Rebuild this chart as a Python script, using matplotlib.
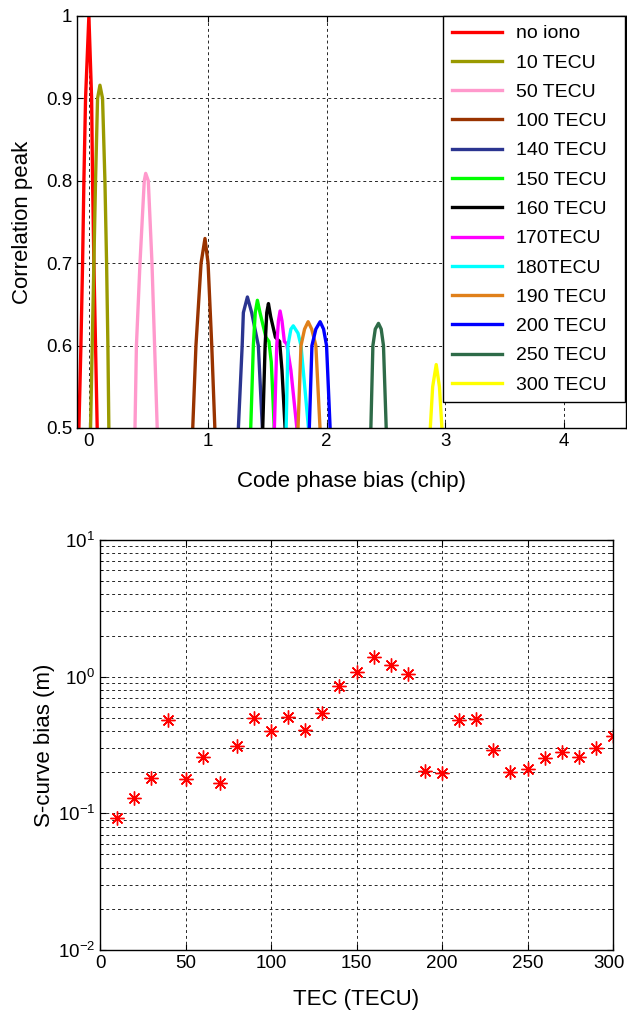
import matplotlib
matplotlib.use("Agg")
import matplotlib.pyplot as plt
import matplotlib.transforms as mtransforms
import numpy as np
from matplotlib.ticker import FormatStrFormatter, LogLocator

plt.rcParams['font.family'] = ['Liberation Sans', 'DejaVu Sans']
plt.rcParams['mathtext.fontset'] = 'custom'
plt.rcParams['mathtext.rm'] = 'Liberation Sans'

# ---- top panel: correlation peaks per TEC level ----
labels = ['no iono', '10 TECU', '50 TECU', '100 TECU', '140 TECU', '150 TECU',
          '160 TECU', '170TECU', '180TECU', '190 TECU', '200 TECU',
          '250 TECU', '300 TECU']
colors = ['#ff0000', '#9a9a00', '#ff99cc', '#993300', '#2b3590', '#00ff00',
          '#000000', '#ff00ff', '#00ffff', '#e0801a', '#0000ff', '#2e6b48',
          '#ffff00']

peak_x = [
    [-0.084, -0.067, -0.053, -0.042, -0.028, 0.0, 0.023, 0.031, 0.042, 0.056, 0.07],
    [0.014, 0.028, 0.042, 0.056, 0.073, 0.093, 0.115, 0.135, 0.149, 0.16, 0.168],
    [0.388, 0.40, 0.43, 0.466, 0.478, 0.50, 0.531, 0.553, 0.575],
    [0.874, 0.901, 0.944, 0.977, 1.003, 1.034, 1.06],
    [1.258, 1.29, 1.30, 1.334, 1.37, 1.426, 1.46],
    [1.362, 1.384, 1.40, 1.418, 1.44, 1.49, 1.515, 1.535, 1.56],
    [1.463, 1.483, 1.497, 1.511, 1.53, 1.57, 1.605, 1.625, 1.651],
    [1.561, 1.581, 1.595, 1.609, 1.625, 1.645, 1.665, 1.70, 1.75],
    [1.66, 1.675, 1.70, 1.72, 1.76, 1.785, 1.848],
    [1.76, 1.785, 1.815, 1.845, 1.875, 1.91, 1.945],
    [1.855, 1.877, 1.91, 1.946, 1.975, 2.0, 2.03],
    [2.373, 2.39, 2.41, 2.437, 2.46, 2.479, 2.502],
    [2.873, 2.893, 2.923, 2.95, 2.971],
]
peak_y = [
    [0.5, 0.6, 0.7, 0.8, 0.9, 1.0, 0.9, 0.8, 0.7, 0.6, 0.5],
    [0.5, 0.6, 0.7, 0.8, 0.9, 0.916, 0.9, 0.8, 0.7, 0.6, 0.5],
    [0.5, 0.6, 0.7, 0.8, 0.809, 0.8, 0.7, 0.6, 0.5],
    [0.5, 0.6, 0.7, 0.73, 0.7, 0.6, 0.5],
    [0.5, 0.6, 0.64, 0.659, 0.64, 0.6, 0.5],
    [0.5, 0.6, 0.64, 0.655, 0.64, 0.61, 0.605, 0.58, 0.5],
    [0.5, 0.6, 0.64, 0.651, 0.635, 0.61, 0.605, 0.57, 0.5],
    [0.5, 0.6, 0.63, 0.642, 0.63, 0.605, 0.602, 0.57, 0.5],
    [0.5, 0.6, 0.62, 0.624, 0.615, 0.6, 0.5],
    [0.5, 0.6, 0.62, 0.629, 0.62, 0.6, 0.5],
    [0.5, 0.6, 0.62, 0.629, 0.62, 0.6, 0.5],
    [0.5, 0.6, 0.62, 0.627, 0.62, 0.6, 0.5],
    [0.5, 0.55, 0.577, 0.55, 0.5],
]

# ---- bottom panel: S-curve bias vs TEC ----
tec = [10, 20, 30, 40, 50, 60, 70, 80, 90, 100, 110, 120, 130, 140, 150,
       160, 170, 180, 190, 200, 210, 220, 230, 240, 250, 260, 270, 280, 290, 300]
bias = [0.092, 0.13, 0.18, 0.48, 0.178, 0.258, 0.167, 0.31, 0.50, 0.40,
        0.505, 0.41, 0.54, 0.85, 1.09, 1.39, 1.21, 1.05, 0.205, 0.197,
        0.48, 0.49, 0.29, 0.20, 0.21, 0.256, 0.28, 0.257, 0.30, 0.37]

W, H = 627, 1010
fig = plt.figure(figsize=(W / 100, H / 100), dpi=100)

grid_kw = dict(color='0.15', linestyle=(0, (3, 3)), linewidth=0.7)

ax1 = fig.add_axes([77 / W, 1 - 428 / H, 549 / W, 412 / H])
for xs, ys, c, lab in zip(peak_x, peak_y, colors, labels):
    ax1.plot(xs, ys, color=c, lw=2.4, label=lab)
ax1.set_xlim(-0.1, 4.52)
ax1.set_ylim(0.5, 1.0)
ax1.set_xticks([0, 1, 2, 3, 4])
ax1.set_yticks([0.5, 0.6, 0.7, 0.8, 0.9, 1.0])
ax1.yaxis.set_major_formatter(FormatStrFormatter('%g'))
ax1.grid(True, **grid_kw)
ax1.set_axisbelow(True)
ax1.set_xlabel('Code phase bias (chip)', fontsize=16, labelpad=15)
ax1.set_ylabel('Correlation peak', fontsize=16, labelpad=9)
# legend box spans x = 443..625 px of the figure
leg = ax1.legend(loc='upper right', bbox_to_anchor=(366 / 549, 0, 182 / 549, 1.0),
                 mode='expand', fontsize=14, frameon=True, fancybox=False,
                 edgecolor='k', framealpha=1, borderaxespad=0,
                 handlelength=2.6, handletextpad=0.7, labelspacing=0.6,
                 borderpad=0.45)
leg.get_frame().set_linewidth(1.0)

ax2 = fig.add_axes([100 / W, 1 - 950 / H, 513 / W, 410 / H])
ax2.semilogy(tec, bias, linestyle='none', marker=(8, 2, 0), ms=10,
             mec='#ff0000', mew=1.0, color='#ff0000')
ax2.set_xlim(0, 300)
ax2.set_ylim(1e-2, 1e1)
ax2.set_xticks([0, 50, 100, 150, 200, 250, 300])
ax2.yaxis.set_major_locator(LogLocator(base=10, numticks=10))
ax2.yaxis.set_minor_locator(LogLocator(base=10, subs=np.arange(2, 10), numticks=20))
ax2.grid(True, which='major', **grid_kw)
ax2.grid(True, which='minor', axis='y', **grid_kw)
ax2.set_axisbelow(True)
ax2.set_xlabel('TEC (TECU)', fontsize=16, labelpad=12)
ax2.set_ylabel('S-curve bias (m)', fontsize=16, labelpad=2)

for ax in (ax1, ax2):
    ax.tick_params(direction='in', top=True, right=True, labelsize=13.5,
                   length=4, width=0.8)
    ax.tick_params(which='minor', direction='in', right=True, length=2)
    for s in ax.spines.values():
        s.set_linewidth(1.0)

# nudge the last bottom tick label so it stays inside the figure
fig.canvas.draw()
last = ax2.get_xticklabels()[-1]
last.set_transform(last.get_transform() +
                   mtransforms.ScaledTranslation(-4 / 100, 0, fig.dpi_scale_trans))

fig.savefig('out.png', dpi=100)
